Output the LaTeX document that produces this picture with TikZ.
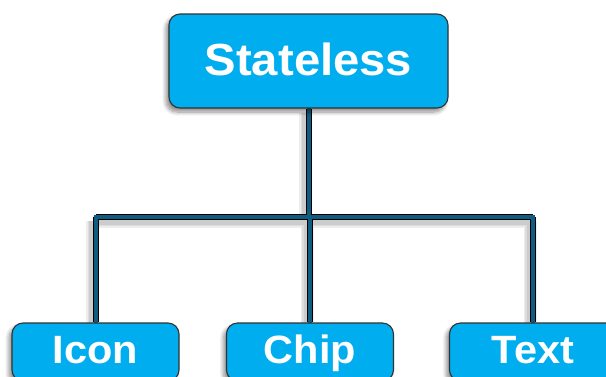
\documentclass[tikz,border=0pt]{standalone}
\usepackage{fontspec}
\setmainfont{Liberation Sans}
\newfontfamily\labelfont[FakeStretch=1.05]{Liberation Sans}
\usetikzlibrary{shadows.blur,backgrounds}

\definecolor{boxfill}{RGB}{0,174,239}
\definecolor{boxedge}{RGB}{50,50,50}
\definecolor{linkblue}{RGB}{16,92,128}

\tikzset{
  card/.style={
    draw=boxedge, line width=1.1pt, fill=boxfill, rounded corners=11pt,
    text=white, inner sep=0pt, text depth=0pt,
    blur shadow={shadow xshift=-3pt, shadow yshift=-4pt,
                 shadow blur steps=8, shadow blur radius=4pt, shadow opacity=45}
  },
  bigcard/.style={card, minimum width=279pt, minimum height=94pt,
    font=\labelfont\bfseries\fontsize{45}{50}\selectfont,
    text height=32pt, text depth=4pt},
  smallcard/.style={card, minimum width=167pt, minimum height=58pt,
    font=\labelfont\bfseries\fontsize{39.5}{44}\selectfont,
    text height=28.3pt, text depth=6pt},
  % soft shadow made of a few widening translucent strokes
  linkshade/.style={draw=black, opacity=0.07, line width=#1,
               transform canvas={shift={(-3pt,-4pt)}}},
  link/.style={
    draw=linkblue, line width=4pt, line cap=rect,
    preaction={linkshade=13pt},
    preaction={linkshade=10pt},
    preaction={linkshade=7pt},
    preaction={draw=black, line width=6pt}
  }
}

\begin{document}
\begin{tikzpicture}[x=1pt, y=-1pt]
  \useasboundingbox (0,0) rectangle (606,376);
  \clip (0,0) rectangle (606,376);

  % bus line between the parent and its children
  \coordinate (bus) at (0,217);

  \node[bigcard]   (stateless) at (308.5,61)  {Stateless};
  \node[smallcard] (icon)      at (95.5,352)  {Icon};
  \node[smallcard] (chip)      at (310,352)   {Chip};
  \node[smallcard] (text)      at (533,352)   {Text};

  % connectors behind the cards, one path so the joins stay clean
  \begin{scope}[on background layer]
    \path[link]
      (stateless.south) -- (stateless.south |- bus)
      (icon.north |- bus) -- (text.north |- bus)
      (icon.north |- bus) -- (icon.north)
      (chip.north |- bus) -- (chip.north)
      (text.north |- bus) -- (text.north);
  \end{scope}
\end{tikzpicture}
\end{document}
